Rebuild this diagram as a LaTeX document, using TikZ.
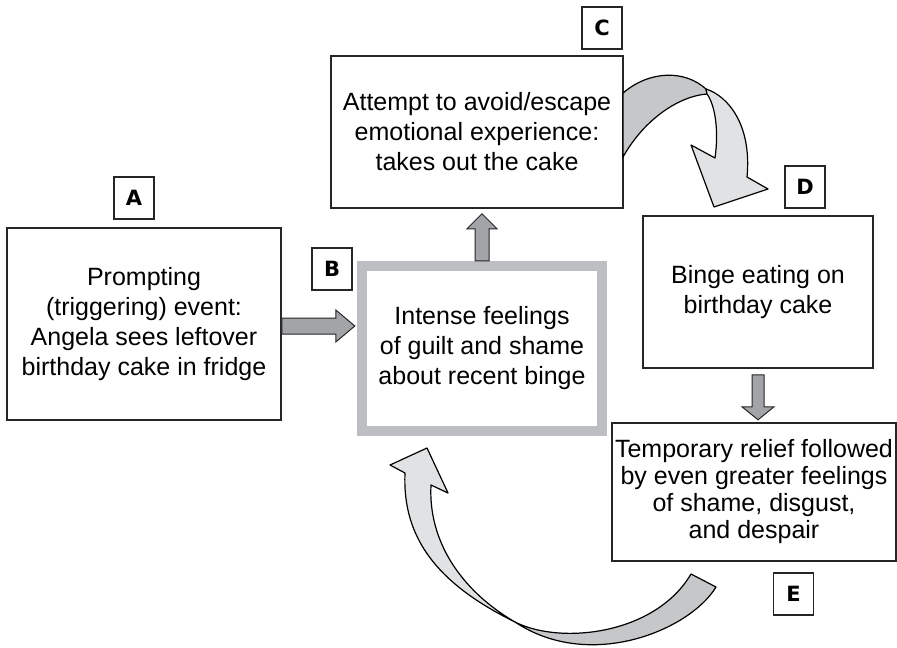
\documentclass[tikz,border=0pt]{standalone}
\usepackage{fontspec}
\setmainfont{Liberation Sans}
\newfontfamily\tagfont{DejaVu Sans}
\usetikzlibrary{calc}

\definecolor{arrowgray}{HTML}{A3A4A7}
\definecolor{framegray}{HTML}{BDBEC1}
\definecolor{ribbondark}{HTML}{C6C7C9}
\definecolor{ribbonlight}{HTML}{E1E2E3}

\begin{document}
\begin{tikzpicture}[x=0.5pt, y=-0.5pt,
    box/.style={draw=black!85, line width=0.8pt, align=center, inner sep=0pt,
        font=\fontsize{12.5}{15}\selectfont},
    tag/.style={draw=black!85, line width=0.7pt, minimum width=20pt, minimum height=21pt,
        inner sep=0pt, font=\tagfont\bfseries\fontsize{10.5}{12}\selectfont},
    blockarrow/.style={fill=arrowgray, draw=black!85, line width=0.5pt},
    ribbon/.style={draw=black, line width=0.6pt, line join=round}]
    \useasboundingbox (0,0) rectangle (897,647);

    % boxes
    \node[box, minimum width=137pt, minimum height=96pt] (prompt) at (144,324)
        {Prompting\\(triggering) event:\\Angela sees leftover\\birthday cake in fridge};
    \node[box, draw=framegray, line width=5.25pt, minimum width=120pt, minimum height=82.5pt] (guilt) at (482,348.5)
        {Intense feelings\\of guilt and shame\\about recent binge};
    \node[box, minimum width=146pt, minimum height=76pt] (escape) at (477,132)
        {Attempt to avoid/escape\\emotional experience:\\takes out the cake};
    \node[box, minimum width=115pt, minimum height=76pt] (binge) at (758,292)
        {Binge eating on\\birthday cake};
    \node[box, minimum width=142pt, minimum height=69pt, font=\fontsize{12.5}{13.5}\selectfont] (relief) at (754,492)
        {Temporary relief followed\\by even greater feelings\\of shame, disgust,\\and despair};

    % letters
    \node[tag] (tagA) at (134,198) {A};
    \node[tag] (tagB) at (332,269) {B};
    \node[tag] (tagC) at (602,28) {C};
    \node[tag] (tagD) at (805,187) {D};
    \node[tag] (tagE) at (793.5,594) {E};

    % straight arrows
    \draw[blockarrow] ($(prompt.east)+(0,-6)$) -- ++(54,0) -- ++(0,-8) -- ++(19,16)
        -- ++(-19,16) -- ++(0,-8) -- ++(-54,0) -- cycle;
    \draw[blockarrow] ($(guilt.north)+(-7,0)$) -- ++(0,-32) -- ++(-8,0) -- ++(15,-15)
        -- ++(15,15) -- ++(-8,0) -- ++(0,32) -- cycle;
    \draw[blockarrow] ($(binge.south)+(-6,6)$) -- ++(0,32) -- ++(-10,0) -- ++(16,13)
        -- ++(16,-13) -- ++(-10,0) -- ++(0,-32) -- cycle;

    % curved arrow C to D
    \draw[ribbon, fill=ribbondark] (623,93) .. controls (650,70) and (685,70) .. (706,89)
        -- (707,94) .. controls (680,96) and (645,118) .. (623,157) -- cycle;
    \draw[ribbon, fill=ribbonlight] (706,89) .. controls (728,96) and (752,125) .. (747,177)
        -- (768,189) -- (714,207) -- (691,145) -- (715,158)
        .. controls (719,130) and (715,105) .. (707,94) -- cycle;

    % curved arrow E back to B
    \draw[ribbon, fill=ribbondark] (691,574) -- (716,587) .. controls (690,630) and (590,672) .. (515,622)
        .. controls (560,645) and (655,635) .. (691,574) -- cycle;
    \draw[ribbon, fill=ribbonlight] (515,622) .. controls (440,585) and (402,540) .. (405,473)
        -- (390,465) -- (427,448) -- (448,493) -- (431,485)
        .. controls (428,540) and (460,590) .. (515,622) -- cycle;
\end{tikzpicture}
\end{document}
